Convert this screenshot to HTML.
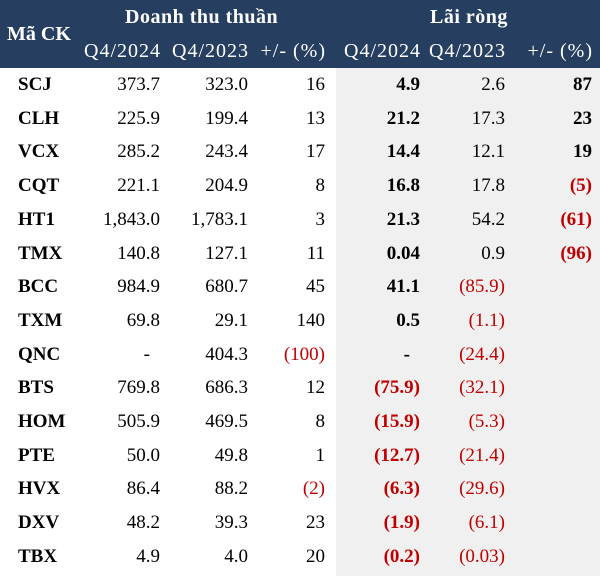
<!DOCTYPE html>
<html><head><meta charset="utf-8">
<style>
body{margin:0;width:600px;height:576px;overflow:hidden;background:#fff;font-family:"Liberation Serif",serif;}
#hdr{position:absolute;left:0;top:0;width:600px;height:68px;background:#263f61;color:#fff;}
#gray{position:absolute;left:336px;top:68px;width:264px;height:508px;background:#f0f0f0;}
.t{position:absolute;white-space:nowrap;font-size:19px;line-height:22px;}
.b{font-weight:bold;}
.r{color:#c00000;}
</style></head><body>
<div id="hdr">
<div class="t b" style="left:7px;top:23px;font-size:20px">Mã CK</div>
<div class="t b" style="left:125px;top:6px;font-size:20px;letter-spacing:0.5px">Doanh thu thuần</div>
<div class="t b" style="left:430px;top:6px;font-size:20px;letter-spacing:0.5px">Lãi ròng</div>
</div>
<div id="gray"></div>
<div id="tbl"></div>
<script>
var tickers=["SCJ","CLH","VCX","CQT","HT1","TMX","BCC","TXM","QNC","BTS","HOM","PTE","HVX","DXV","TBX"];
var rev24=["373.7","225.9","285.2","221.1","1,843.0","140.8","984.9","69.8","-","769.8","505.9","50.0","86.4","48.2","4.9"];
var rev23=["323.0","199.4","243.4","204.9","1,783.1","127.1","680.7","29.1","404.3","686.3","469.5","49.8","88.2","39.3","4.0"];
var revChg=["16","13","17","8","3","11","45","140","(100)","12","8","1","(2)","23","20"];
var np24=["4.9","21.2","14.4","16.8","21.3","0.04","41.1","0.5","-","(75.9)","(15.9)","(12.7)","(6.3)","(1.9)","(0.2)"];
var np23=["2.6","17.3","12.1","17.8","54.2","0.9","(85.9)","(1.1)","(24.4)","(32.1)","(5.3)","(21.4)","(29.6)","(6.1)","(0.03)"];
var npChg=["87","23","19","(5)","(61)","(96)","","","","","","","","",""];
var subs=["Q4/2024","Q4/2023","+/- (%)","Q4/2024","Q4/2023","+/- (%)"];
var rightEdges=[160,248,325,420,505,592];
var hdr=document.getElementById('hdr');
subs.forEach(function(s,i){
 var d=document.createElement('div');d.className='t';d.textContent=s;
 
 
 d.style.right=(600-rightEdges[i]-1)+'px';d.style.top='40px';d.style.fontSize='20px';d.style.letterSpacing='1px';
 hdr.appendChild(d);
});
var tbl=document.getElementById('tbl');
function cell(txt,x,y,bold,right,name){
 var d=document.createElement('div');d.className='t'+(bold?' b':'')+(txt.charAt(0)=='('?' r':'');
 d.textContent=txt;
 
 
 if(right)d.style.right=(600-x)+'px';else d.style.left=x+'px';
 d.style.top=(y-11)+'px';tbl.appendChild(d);
}
tickers.forEach(function(t,i){
 var y=85+i*33.7;
 cell(t,18,y,true,false,'ticker-'+t.toLowerCase());
 var cols=[rev24[i],rev23[i],revChg[i],np24[i],np23[i],npChg[i]];
 cols.forEach(function(v,j){
  if(v==='')return;
  var bold=(j==3||j==5);
  cell(v,rightEdges[j]-(v==='-'?10:0),y,bold,true,'cell-'+t.toLowerCase()+'-'+j);
 });
});
</script>
</body></html>
